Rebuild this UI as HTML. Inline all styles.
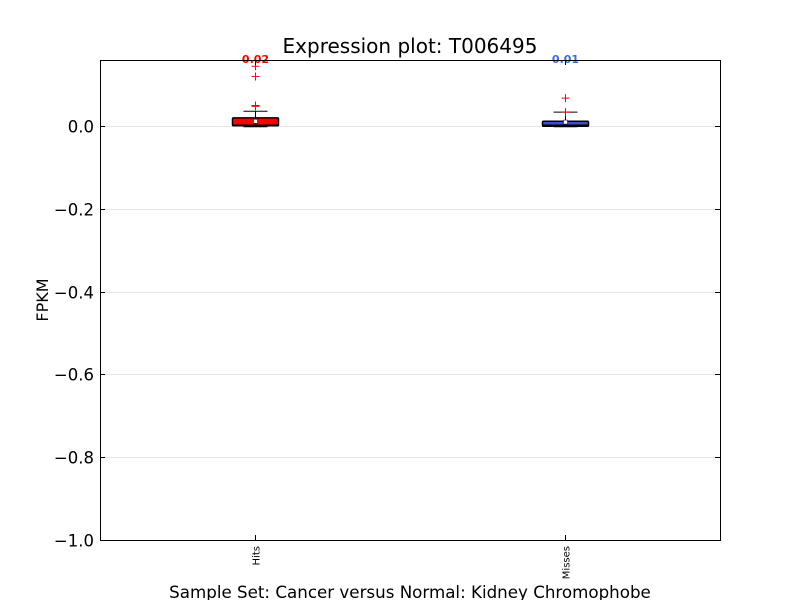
<!DOCTYPE html>
<html><head><meta charset="utf-8"><style>body{margin:0;background:#fff}svg{display:block;font-family:"DejaVu Sans","Liberation Sans",sans-serif}</style></head>
<body>
<svg id="c" width="800" height="600">
<rect width="800" height="600" fill="#fff"/>
<text x="410" y="53" text-anchor="middle" font-size="20">Expression plot: T006495</text>
<g id="grid"></g>
<g id="marks"></g>
<rect x="100.5" y="60.5" width="620" height="480" fill="none" stroke="#000" stroke-width="1"/>
<g id="axes"></g>
<text transform="translate(48,300) rotate(-90)" text-anchor="middle" font-size="16">FPKM</text>
<text x="410" y="598" text-anchor="middle" font-size="16.7">Sample Set: Cancer versus Normal: Kidney Chromophobe</text>
</svg>
<script>
const categories=["Hits","Misses"];
const colors=["#ff0000","#3a50c8"];
const labelColors=["#ff0000","#4169e1"];
const q1=[0.001,0.0];
const q3=[0.020,0.012];
const medians=[0.003,0.003];
const means=[0.012,0.010];
const whiskLo=[0.0,0.0];
const whiskHi=[0.036,0.034];
const outliers=[[0.048,0.05,0.12,0.145],[0.034,0.068]];
const topLabels=["0.02","0.01"];
const yTicks=[0.0,-0.2,-0.4,-0.6,-0.8,-1.0];
const yMin=-1.0,yMax=0.16;
const X0=100,X1=720,Y0=540,Y1=60;
const ns="http://www.w3.org/2000/svg";
function y(v){return Y0-(v-yMin)/(yMax-yMin)*(Y0-Y1);}
function x(i){return X0+(X1-X0)*(i+0.5)/categories.length;}
function mk(t,a,p){const e=document.createElementNS(ns,t);for(const k in a)e.setAttribute(k,a[k]);(p||document.getElementById('marks')).appendChild(e);return e;}
const grid=document.getElementById('grid'),axes=document.getElementById('axes');
yTicks.forEach(v=>{
 const yy=Math.round(y(v))+0.5;
 if(v!==0&&v!==-1){const g=mk('line',{x1:X0,x2:X1,y1:yy,y2:yy,stroke:'#e6e6e6','stroke-width':1},grid);
 
 }
 mk('line',{x1:X0,x2:X0+5,y1:yy,y2:yy,stroke:'#000'},axes);
 mk('line',{x1:X1-5,x2:X1,y1:yy,y2:yy,stroke:'#000'},axes);
 const t=mk('text',{x:X0-6,y:yy+6,'text-anchor':'end','font-size':16.5},axes);
 t.textContent=(v<0?'\u2212':'')+Math.abs(v).toFixed(1);
 
 
});
{const zl=mk('line',{x1:X0,x2:X1,y1:Math.round(y(0))+0.5,y2:Math.round(y(0))+0.5,stroke:'#e6e6e6'},grid);}
categories.forEach((c,i)=>{
 const cx=Math.round(x(i))+0.5,w=46;
 mk('line',{x1:cx,x2:cx,y1:Y0,y2:Y0-5,stroke:'#000'},axes);
 mk('line',{x1:cx,x2:cx,y1:Y1,y2:Y1+5,stroke:'#000'},axes);
 const tl=mk('text',{transform:`translate(${cx+4},${Y0+6}) rotate(-90)`,'text-anchor':'end','font-size':10},axes);
 tl.textContent=c;
 
 
 mk('line',{x1:cx,x2:cx,y1:y(q3[i]),y2:y(whiskHi[i]),stroke:'#000'});
 mk('line',{x1:cx-12,x2:cx+12,y1:y(whiskHi[i]),y2:y(whiskHi[i]),stroke:'#000'});
 mk('line',{x1:cx-12,x2:cx+12,y1:y(whiskLo[i])+0.5,y2:y(whiskLo[i])+0.5,stroke:'#000'});
 const b=mk('rect',{x:cx-w/2,y:y(q3[i]),width:w,height:Math.max(2,y(q1[i])-y(q3[i])),fill:colors[i],stroke:'#000','stroke-width':1.5,rx:1});
 
 
 mk('line',{x1:cx-w/2,x2:cx+w/2,y1:y(medians[i]),y2:y(medians[i]),stroke:'#000'});
 mk('rect',{x:cx-2,y:y(means[i])-2,width:4,height:4,fill:'#fff',stroke:'#000','stroke-width':0.5});
 outliers[i].forEach(o=>{
  const p=mk('path',{d:`M${cx-4},${y(o)}h8M${cx},${y(o)-4}v8`,stroke:'#ff0000','stroke-width':1});
  
  
 });
 const lb=mk('text',{x:cx,y:Y1+3,'text-anchor':'middle','font-size':11,'font-weight':'bold',fill:labelColors[i]});
 lb.textContent=topLabels[i];
 
 
});
</script>
</body></html>
